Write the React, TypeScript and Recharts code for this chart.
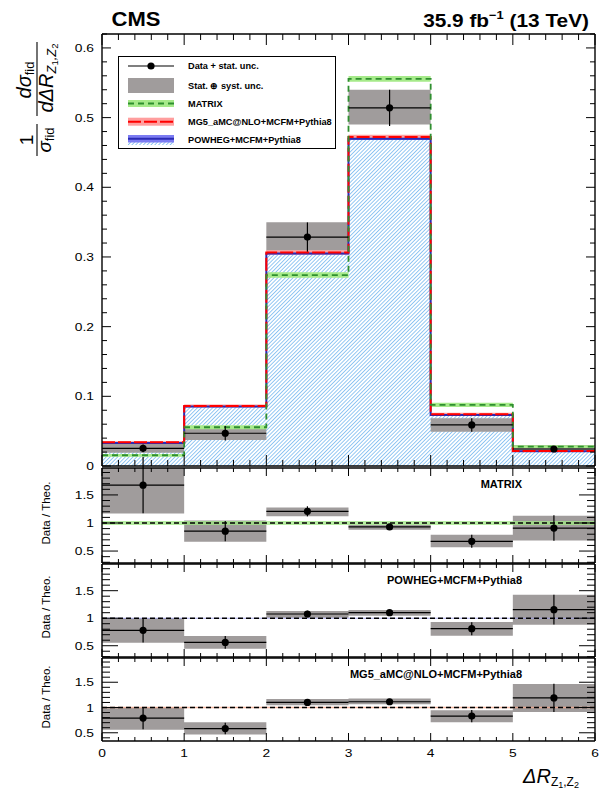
import React from "react";
import {
  ComposedChart,
  Area,
  Line,
  Scatter,
  ErrorBar,
  XAxis,
  YAxis,
  ReferenceLine,
} from "recharts";

const FONT = "'Liberation Sans', Arial, Helvetica, sans-serif";
const W = 603;
const H = 793;
const PL = 102; // plot left
const PR = 595; // plot right
const AX = 1; // px taken by the 1px frame axis on each side

// bins in Delta R(Z1,Z2)
const binEdges = [0, 1, 2, 3, 4, 5, 6];
const binCenters = [0.5, 1.5, 2.5, 3.5, 4.5, 5.5];
const binHalf = [0.5, 0.5, 0.5, 0.5, 0.5, 0.5];

// main panel: 1/sigma dsigma/dDeltaR
const dataVal = [0.0254, 0.047, 0.3286, 0.514, 0.0589, 0.0244];
const dataStat = [0.0055, 0.0105, 0.021, 0.026, 0.0096, 0.0035];
const dataTotLo = [0.019, 0.0374, 0.309, 0.49, 0.0493, 0.0205];
const dataTotHi = [0.0326, 0.0565, 0.35, 0.54, 0.0685, 0.03];
const matrixVal = [0.0154, 0.0556, 0.274, 0.5556, 0.0876, 0.0277];
const matrixUnc = [0.002, 0.003, 0.004, 0.004, 0.003, 0.002];
const mg5Val = [0.034, 0.0862, 0.3065, 0.4723, 0.0743, 0.0216];
const mg5Unc = [0.0015, 0.002, 0.003, 0.003, 0.002, 0.0015];
const powhegVal = [0.033, 0.0855, 0.305, 0.4695, 0.0733, 0.0212];
const powhegUnc = [0.001, 0.0012, 0.0018, 0.0018, 0.0012, 0.001];

// ratio Data / MATRIX
const rMatrixVal = [1.674, 0.855, 1.208, 0.93, 0.674, 0.91];
const rMatrixStat = [0.5, 0.18, 0.09, 0.04, 0.117, 0.226];
const rMatrixLo = [1.17, 0.666, 1.119, 0.88, 0.566, 0.69];
const rMatrixHi = [2.2, 1.043, 1.277, 0.97, 0.79, 1.13];
const rMatrixBand = [0.035, 0.035, 0.035, 0.035, 0.035, 0.035];

// ratio Data / POWHEG
const rPowhegVal = [0.78, 0.56, 1.076, 1.1, 0.81, 1.155];
const rPowhegStat = [0.22, 0.115, 0.06, 0.05, 0.118, 0.27];
const rPowhegLo = [0.555, 0.445, 1.009, 1.045, 0.682, 0.882];
const rPowhegHi = [0.998, 0.676, 1.131, 1.149, 0.93, 1.427];
const rPowhegBand = [0.008, 0.008, 0.008, 0.008, 0.008, 0.008];

// ratio Data / MG5
const rMg5Val = [0.79, 0.583, 1.1, 1.114, 0.83, 1.19];
const rMg5Stat = [0.22, 0.113, 0.06, 0.05, 0.12, 0.28];
const rMg5Lo = [0.56, 0.467, 1.045, 1.066, 0.707, 0.913];
const rMg5Hi = [1.0, 0.707, 1.17, 1.18, 0.948, 1.465];
const rMg5Band = [0.015, 0.015, 0.015, 0.015, 0.015, 0.015];

// tick positions (major ones get labels)
const xTicks = Array.from({ length: 31 }, (_, i) => i * 0.2);
const mainYTicks = Array.from({ length: 32 }, (_, i) => i * 0.02);
const ratioYTicks = Array.from({ length: 20 }, (_, i) => 0.2 + i * 0.1);

const legendLabels = [
  "Data + stat. unc.",
  "Stat. \u2295 syst. unc.",
  "MATRIX",
  "MG5_aMC@NLO+MCFM+Pythia8",
  "POWHEG+MCFM+Pythia8",
];

const GRAY = "#a09c9c";
const lastBin = binCenters.length - 1;

function SText(props: {
  x: number;
  y: number;
  size: number;
  sx?: number;
  anchor?: "start" | "middle" | "end";
  weight?: string;
  children: React.ReactNode;
}) {
  const { x, y, size, sx = 1, anchor = "start", weight = "normal" } = props;
  return (
    <text
      transform={`translate(${x},${y}) scale(${sx},1)`}
      textAnchor={anchor}
      fontSize={size}
      fontFamily={FONT}
      fontWeight={weight}
      fill="#000"
    >
      {props.children}
    </text>
  );
}

type FrameOpts = {
  top: number;
  bottom: number;
  yDomain: [number, number];
  yTicks: number[];
  yStep: number;
  xMaj: number;
  xMin: number;
  yMaj: number;
  yMin: number;
  xLabels: boolean;
};

const isMultiple = (v: number, step: number) => Math.abs(v / step - Math.round(v / step)) < 1e-6;
const inDomain = (d: [number, number]) => (v: number) => v >= d[0] - 1e-9 && v <= d[1] + 1e-9;

const xLabelTick = (p: any) => {
  const v = Number(p.payload.value);
  if (!isMultiple(v, 1)) return <g />;
  return (
    <SText x={p.x} y={p.y + 16} size={11.5} sx={1.2} anchor="middle">
      {String(Math.round(v))}
    </SText>
  );
};

const yLabelTick = (step: number) => (p: any) => {
  const v = Number(p.payload.value);
  if (!isMultiple(v, step)) return <g />;
  return (
    <SText x={p.x - 8} y={p.y + 4} size={11.5} sx={1.2} anchor="end">
      {String(Math.round(v * 10) / 10)}
    </SText>
  );
};

// frame: one axis per side, labels on the left and (last panel) bottom
function frameAxes(o: FrameOpts) {
  const yT = o.yTicks.filter(inDomain(o.yDomain));
  const ax = {
    type: "number" as const,
    allowDataOverflow: true,
    interval: 0 as const,
    stroke: "#000",
    tickSize: 0,
    tickMargin: 0,
    tickLine: false,
  };
  const frame = { stroke: "#000", strokeWidth: 1.4 };
  const xd: [number, number] = [0, 6];
  return [
    <XAxis key="xb" xAxisId={0} dataKey="x" domain={xd} ticks={xTicks} height={AX}
      axisLine={frame} tick={o.xLabels ? xLabelTick : false} {...ax} />,
    <XAxis key="xt" xAxisId="t" orientation="top" dataKey="x" domain={xd} ticks={xTicks}
      height={AX} axisLine={frame} tick={false} {...ax} />,
    <YAxis key="yl" yAxisId={0} domain={o.yDomain} ticks={yT} width={AX}
      axisLine={frame} tick={yLabelTick(o.yStep)} {...ax} />,
    <YAxis key="yr" yAxisId="r" orientation="right" domain={o.yDomain} ticks={yT} width={AX}
      axisLine={frame} tick={false} {...ax} />,
  ];
}

// inward ROOT ticks on the four sides of a frame, same linear mapping as the chart axes
function FrameTicks({ o }: { o: FrameOpts }) {
  const [d0, d1] = o.yDomain;
  const px = (v: number) => PL + (v / 6) * (PR - PL);
  const py = (v: number) => o.bottom - ((v - d0) / (d1 - d0)) * (o.bottom - o.top);
  const yT = o.yTicks.filter(inDomain(o.yDomain));
  const out: React.ReactNode[] = [];
  xTicks.forEach((v, i) => {
    const L = isMultiple(v, 1) ? o.xMaj : o.xMin;
    const x = px(v);
    out.push(<line key={`b${i}`} x1={x} x2={x} y1={o.bottom} y2={o.bottom - L} />);
    out.push(<line key={`t${i}`} x1={x} x2={x} y1={o.top} y2={o.top + L} />);
  });
  yT.forEach((v, i) => {
    const L = isMultiple(v, o.yStep) ? o.yMaj : o.yMin;
    const y = py(v);
    out.push(<line key={`l${i}`} x1={PL} x2={PL + L} y1={y} y2={y} />);
    out.push(<line key={`r${i}`} x1={PR} x2={PR - L} y1={y} y2={y} />);
  });
  return (
    <g stroke="#000" strokeWidth={1}>
      {out}
    </g>
  );
}

const dot = (p: any) => <circle cx={p.cx} cy={p.cy} r={3.6} fill="#000" />;

const layer: React.CSSProperties = { position: "absolute", left: 0, top: 0 };

const panelMargin = (top: number, bottom: number) => ({
  top: top - AX,
  bottom: H - bottom - AX,
  left: PL - AX,
  right: W - PR - AX,
});

const mainFrame: FrameOpts = {
  top: 34,
  bottom: 466,
  yDomain: [0, 0.62],
  yTicks: mainYTicks,
  yStep: 0.1,
  xMaj: 11,
  xMin: 6,
  yMaj: 9,
  yMin: 5,
  xLabels: false,
};

function MainPanel() {
  const rows = binEdges.map((x, i) => {
    const b = Math.min(i, lastBin);
    return {
      x,
      powheg: powhegVal[b],
      powhegBand: [powhegVal[b] - powhegUnc[b], powhegVal[b] + powhegUnc[b]],
      mg5: mg5Val[b],
      mg5Band: [mg5Val[b] - mg5Unc[b], mg5Val[b] + mg5Unc[b]],
      matrix: matrixVal[b],
      matrixBand: [matrixVal[b] - matrixUnc[b], matrixVal[b] + matrixUnc[b]],
      total: [dataTotLo[b], dataTotHi[b]],
    };
  });
  const pts = binCenters.map((x, i) => ({ x, y: dataVal[i], ex: binHalf[i], ey: dataStat[i] }));
  return (
    <div style={layer}>
      <ComposedChart width={W} height={H} data={rows}
        margin={panelMargin(mainFrame.top, mainFrame.bottom)}>
        {frameAxes(mainFrame)}
        <Area dataKey="powheg" type="stepAfter" fill="url(#powhegHatch)" fillOpacity={1}
          stroke="none" isAnimationActive={false} />
        <Area dataKey="total" type="stepAfter" fill={GRAY} fillOpacity={1} stroke="none"
          isAnimationActive={false} />
        <Area dataKey="matrixBand" type="stepAfter" fill="#a6ea8a" fillOpacity={1} stroke="none"
          isAnimationActive={false} />
        <Area dataKey="powhegBand" type="stepAfter" fill="#7c7cf2" fillOpacity={1} stroke="none"
          isAnimationActive={false} />
        <Area dataKey="mg5Band" type="stepAfter" fill="#ff9e9e" fillOpacity={1} stroke="none"
          isAnimationActive={false} />
        <Line dataKey="powheg" type="stepAfter" stroke="#2a2ab4" strokeWidth={2} dot={false}
          activeDot={false} isAnimationActive={false} />
        <Line dataKey="mg5" type="stepAfter" stroke="#ff0000" strokeWidth={2}
          strokeDasharray="13 3" dot={false} activeDot={false} isAnimationActive={false} />
        <Line dataKey="matrix" type="stepAfter" stroke="#2f8f2f" strokeWidth={1.8}
          strokeDasharray="6 4" dot={false} activeDot={false} isAnimationActive={false} />
        <Scatter data={pts} dataKey="y" shape={dot} isAnimationActive={false}>
          <ErrorBar dataKey="ex" direction="x" width={0} stroke="#000" strokeWidth={1.2}
            isAnimationActive={false} />
          <ErrorBar dataKey="ey" direction="y" width={0} stroke="#000" strokeWidth={1.2}
            isAnimationActive={false} />
        </Scatter>
      </ComposedChart>
    </div>
  );
}

type RatioCfg = {
  name: string;
  top: number;
  bottom: number;
  domain: [number, number];
  val: number[];
  stat: number[];
  lo: number[];
  hi: number[];
  band: number[];
  bandColor: string;
  labelY: number;
  titleY: number;
  xLabels: boolean;
};

const ratioPanels: RatioCfg[] = [
  {
    name: "MATRIX", top: 468, bottom: 563, domain: [0.287, 1.98],
    val: rMatrixVal, stat: rMatrixStat, lo: rMatrixLo, hi: rMatrixHi, band: rMatrixBand,
    bandColor: "#a0e884", labelY: 488, titleY: 513, xLabels: false,
  },
  {
    name: "POWHEG+MCFM+Pythia8", top: 564, bottom: 657, domain: [0.295, 1.985],
    val: rPowhegVal, stat: rPowhegStat, lo: rPowhegLo, hi: rPowhegHi, band: rPowhegBand,
    bandColor: "#9a9af0", labelY: 584, titleY: 607, xLabels: false,
  },
  {
    name: "MG5_aMC@NLO+MCFM+Pythia8", top: 658, bottom: 741, domain: [0.337, 1.98],
    val: rMg5Val, stat: rMg5Stat, lo: rMg5Lo, hi: rMg5Hi, band: rMg5Band,
    bandColor: "#f7a488", labelY: 678, titleY: 697, xLabels: true,
  },
];

const ratioFrame = (p: RatioCfg): FrameOpts => ({
  top: p.top,
  bottom: p.bottom,
  yDomain: p.domain,
  yTicks: ratioYTicks,
  yStep: 0.5,
  xMaj: 8,
  xMin: 4,
  yMaj: 16,
  yMin: 8,
  xLabels: p.xLabels,
});

function RatioPanel({ p }: { p: RatioCfg }) {
  const rows = binEdges.map((x, i) => {
    const b = Math.min(i, lastBin);
    return { x, total: [p.lo[b], p.hi[b]], band: [1 - p.band[b], 1 + p.band[b]] };
  });
  const pts = binCenters.map((x, i) => ({ x, y: p.val[i], ex: binHalf[i], ey: p.stat[i] }));
  return (
    <div style={layer}>
      <ComposedChart width={W} height={H} data={rows} margin={panelMargin(p.top, p.bottom)}>
        {frameAxes(ratioFrame(p))}
        <Area dataKey="total" type="stepAfter" fill={GRAY} fillOpacity={1} stroke="none"
          isAnimationActive={false} />
        <Area dataKey="band" type="stepAfter" fill={p.bandColor} fillOpacity={0.75} stroke="none"
          isAnimationActive={false} />
        <ReferenceLine y={1} stroke="#000" strokeWidth={1.5} strokeDasharray="5 3" />
        <Scatter data={pts} dataKey="y" shape={dot} isAnimationActive={false}>
          <ErrorBar dataKey="ex" direction="x" width={0} stroke="#000" strokeWidth={1.2}
            isAnimationActive={false} />
          <ErrorBar dataKey="ey" direction="y" width={0} stroke="#000" strokeWidth={1.2}
            isAnimationActive={false} />
        </Scatter>
      </ComposedChart>
    </div>
  );
}

function Legend() {
  const rowY = [66, 85.5, 103.5, 121.7, 140];
  const x0 = 128;
  const x1 = 174;
  return (
    <g>
      <rect x={118.5} y={56.5} width={217} height={92} fill="#fff" stroke="#000" strokeWidth={1} />
      {/* data */}
      <line x1={x0} x2={x1} y1={rowY[0]} y2={rowY[0]} stroke="#000" strokeWidth={1.2} />
      <circle cx={(x0 + x1) / 2} cy={rowY[0]} r={3.6} fill="#000" />
      {/* stat+syst */}
      <rect x={x0} y={rowY[1] - 7.5} width={x1 - x0} height={15} fill={GRAY} />
      {/* MATRIX */}
      <rect x={x0} y={rowY[2] - 3.5} width={x1 - x0} height={7} fill="#a6ea8a" />
      <line x1={x0} x2={x1} y1={rowY[2]} y2={rowY[2]} stroke="#2f8f2f" strokeWidth={1.8}
        strokeDasharray="6 4" />
      {/* MG5 */}
      <rect x={x0} y={rowY[3] - 4} width={x1 - x0} height={8} fill="#ff9e9e" />
      <line x1={x0} x2={x1} y1={rowY[3]} y2={rowY[3]} stroke="#ff0000" strokeWidth={2}
        strokeDasharray="13 3" />
      {/* POWHEG */}
      <rect x={x0} y={rowY[4] - 5} width={x1 - x0} height={10} fill="url(#powhegHatch)" />
      <rect x={x0} y={rowY[4] - 5} width={x1 - x0} height={7.5} fill="#7c7cf2" />
      <line x1={x0} x2={x1} y1={rowY[4] - 1.2} y2={rowY[4] - 1.2} stroke="#2a2ab4" strokeWidth={2} />
      {legendLabels.map((t, i) => (
        <SText key={t} x={188} y={rowY[i] + 3.4} size={9.2} weight="bold">
          {t}
        </SText>
      ))}
    </g>
  );
}

function Overlay() {
  return (
    <svg width={W} height={H} style={{ ...layer, pointerEvents: "none" }}>
      <defs>
        <pattern id="powhegHatch" patternUnits="userSpaceOnUse" width={2.7} height={2.7}
          patternTransform="rotate(45)">
          <rect width={2.7} height={2.7} fill="#ffffff" />
          <line x1={1.35} y1={0} x2={1.35} y2={2.7} stroke="#88c2f2" strokeWidth={0.9} />
        </pattern>
      </defs>

      <FrameTicks o={mainFrame} />
      {ratioPanels.map((p) => (
        <FrameTicks key={p.name} o={ratioFrame(p)} />
      ))}

      <SText x={111.5} y={26} size={20} sx={1.1} weight="bold">CMS</SText>
      <text transform="translate(589,26.5) scale(1.12,1)" textAnchor="end" fontFamily={FONT}
        fontWeight="bold" fontSize={18.6} fill="#000">
        35.9 fb
        <tspan fontSize={11.5} dy={-7.5}>{"\u22121"}</tspan>
        <tspan fontSize={18.6} dy={7.5}> (13 TeV)</tspan>
      </text>

      {/* main y title: 1/sigma_fid dsigma_fid/dDeltaR */}
      <g transform="rotate(-90)" fontFamily={FONT} fill="#000">
        <text x={-140} y={33} textAnchor="middle" fontSize={19}>1</text>
        <line x1={-156} x2={-124} y1={37} y2={37} stroke="#000" strokeWidth={1.1} />
        <text x={-140} y={51} textAnchor="middle" fontSize={19} fontStyle="italic">
          {"\u03c3"}
          <tspan fontSize={13} dy={3} fontStyle="normal">fid</tspan>
        </text>
        <text x={-80} y={31} textAnchor="middle" fontSize={20} fontStyle="italic">
          {"d\u03c3"}
          <tspan fontSize={13} dy={3} fontStyle="normal">fid</tspan>
        </text>
        <line x1={-116} x2={-42} y1={37} y2={37} stroke="#000" strokeWidth={1.1} />
        <text x={-78} y={53} textAnchor="middle" fontSize={20} fontStyle="italic">
          {"d\u0394R"}
          <tspan fontSize={13} dy={3}>Z</tspan>
          <tspan fontSize={9.5} dy={2} fontStyle="normal">1</tspan>
          <tspan fontSize={13} dy={-2}>,Z</tspan>
          <tspan fontSize={9.5} dy={2} fontStyle="normal">2</tspan>
        </text>
      </g>

      {/* ratio titles */}
      {ratioPanels.map((p) => (
        <g key={p.name}>
          <text transform={`translate(50,${p.titleY}) rotate(-90)`} textAnchor="middle"
            fontFamily={FONT} fontSize={11.5} fill="#000">
            Data / Theo.
          </text>
          <SText x={522} y={p.labelY} size={11} weight="bold" anchor="end">
            {p.name}
          </SText>
        </g>
      ))}

      {/* x title */}
      <text x={523} y={783} fontFamily={FONT} fontSize={20} fontStyle="italic" fill="#000">
        {"\u0394R"}
        <tspan fontSize={12} dy={3} fontStyle="normal">Z</tspan>
        <tspan fontSize={9} dy={2} fontStyle="normal">1</tspan>
        <tspan fontSize={12} dy={-2} fontStyle="normal">,Z</tspan>
        <tspan fontSize={9} dy={2} fontStyle="normal">2</tspan>
      </text>

      <Legend />
    </svg>
  );
}

export default function App() {
  return (
    <div style={{ position: "absolute", left: 0, top: 0, width: W, height: H, background: "#fff" }}>
      <MainPanel />
      {ratioPanels.map((p) => (
        <RatioPanel key={p.name} p={p} />
      ))}
      <Overlay />
    </div>
  );
}
